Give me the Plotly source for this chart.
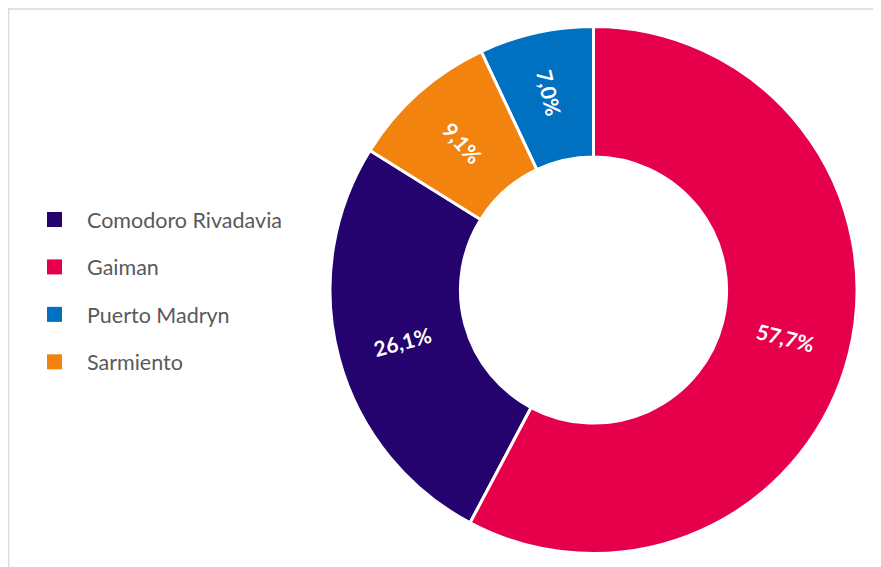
import math
import plotly.graph_objects as go

LABELS = ["Comodoro Rivadavia", "Gaiman", "Puerto Madryn", "Sarmiento"]
VALUES = [26.1, 57.7, 7.0, 9.1]
TEXTS = ["26,1%", "57,7%", "7,0%", "9,1%"]
COLORS = ["#24036E", "#E6004C", "#0070C0", "#F2830F"]

# the page puts the figure 8px in from the window edge
OFF = 8
W, H = 881 - OFF, 567 - OFF
FONT = "Lato, 'Open Sans', sans-serif"
HOLE = 0.505


def px_x(x):
    return (x - OFF) / W


def px_y(y):
    return 1 - (y - OFF) / H


dom_x = [px_x(330), px_x(857)]
dom_y = [px_y(555), px_y(25)]

total = sum(VALUES)
shares = [360 * v / total for v in VALUES]
rotation = shares[1]  # Gaiman starts at 12 o'clock

# big slices straddle the horizontal axis, where plotly lays radial text flat;
# those two labels are set as rotated annotations instead
BIG = {0, 1}
pie_text = ["" if i in BIG else t for i, t in enumerate(TEXTS)]

fig = go.Figure()

fig.add_trace(go.Pie(
    labels=LABELS,
    values=VALUES,
    text=pie_text,
    textinfo="text",
    textposition="inside",
    insidetextorientation="radial",
    textfont=dict(family=FONT, size=21, color="white", weight="bold"),
    marker=dict(colors=COLORS, line=dict(color="white", width=3)),
    hole=HOLE,
    sort=False,
    direction="counterclockwise",
    rotation=rotation,
    domain=dict(x=dom_x, y=dom_y),
    showlegend=False,
    hovertext=TEXTS,
    hoverinfo="label+text",
))

# rotated labels for the two big slices
cx = (dom_x[0] + dom_x[1]) / 2
cy = (dom_y[0] + dom_y[1]) / 2
R = min((dom_x[1] - dom_x[0]) * W, (dom_y[1] - dom_y[0]) * H) / 2
r_mid = R * (1 + HOLE) / 2
start = rotation + shares[0]
cum = 0
annotations = []
for i, s in enumerate(shares):
    mid = start - cum - s / 2
    cum += s
    if i not in BIG:
        continue
    a = math.radians(mid)
    annotations.append(dict(
        x=cx + r_mid * math.sin(a) / W, y=cy + r_mid * math.cos(a) / H,
        xref="paper", yref="paper", xanchor="center", yanchor="middle",
        showarrow=False,
        text="<b>%s</b>" % TEXTS[i], textangle=(mid % 180) - 90,
        font=dict(family=FONT, size=21, color="white"),
    ))

# legend entries (one group each so the rows can be spaced out)
for name, color in zip(LABELS, COLORS):
    fig.add_trace(go.Scatter(
        x=[None], y=[None], mode="markers", name=name,
        marker=dict(symbol="square", size=15, color=color),
        legendgroup=name, showlegend=True,
    ))

fig.update_layout(
    width=W, height=H,
    margin=dict(l=0, r=0, t=0, b=0),
    paper_bgcolor="white", plot_bgcolor="white",
    xaxis=dict(visible=False), yaxis=dict(visible=False),
    legend=dict(
        x=px_x(22), y=px_y(199), xanchor="left", yanchor="top",
        font=dict(family=FONT, size=21.5, color="#595959"),
        itemwidth=55, tracegroupgap=16.5,
        bgcolor="rgba(0,0,0,0)",
    ),
    annotations=annotations,
    shapes=[
        dict(type="line", xref="paper", yref="paper",
             x0=0, x1=1, y0=1 - 1 / H, y1=1 - 1 / H,
             line=dict(color="#D9D9D9", width=1.5)),
        dict(type="line", xref="paper", yref="paper",
             x0=0.5 / W, x1=0.5 / W, y0=0, y1=1,
             line=dict(color="#D9D9D9", width=1.5)),
    ],
)

fig.write_html("out.html")
